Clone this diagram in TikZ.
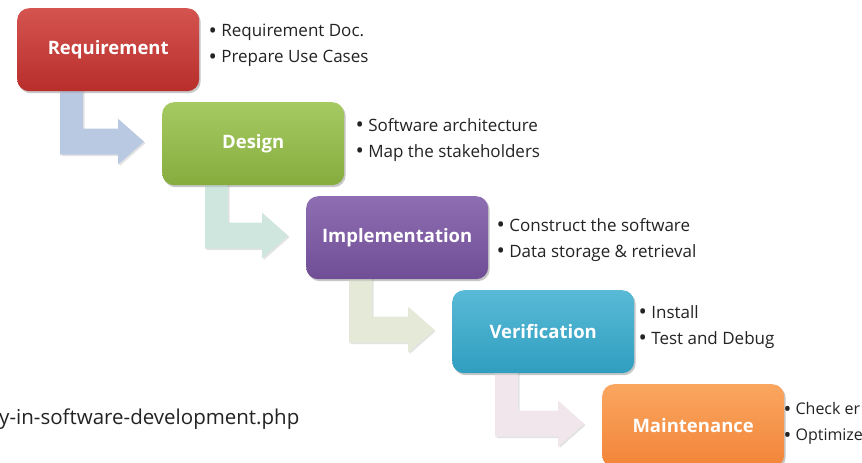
\documentclass[tikz,border=0pt]{standalone}
\usepackage{fontspec}
\setmainfont{Open Sans}
\usetikzlibrary{shadows,calc}
\definecolor{txt}{RGB}{35,35,35}
\definecolor{reqT}{RGB}{212,84,80}\definecolor{reqB}{RGB}{184,46,43}
\definecolor{desT}{RGB}{166,202,98}\definecolor{desB}{RGB}{134,172,62}
\definecolor{impT}{RGB}{142,110,178}\definecolor{impB}{RGB}{112,78,150}
\definecolor{verT}{RGB}{88,186,214}\definecolor{verB}{RGB}{48,158,192}
\definecolor{mntT}{RGB}{250,166,96}\definecolor{mntB}{RGB}{242,132,56}
\definecolor{arA}{RGB}{186,201,226}
\definecolor{arB}{RGB}{206,230,221}
\definecolor{arC}{RGB}{229,233,216}
\definecolor{arD}{RGB}{240,230,235}
\newcommand{\bul}{\raisebox{-0.1em}{\scalebox{1.3}{•}}}
\tikzset{
  phase/.style={rounded corners=12pt, minimum width=182pt, minimum height=83pt,
    anchor=north west, inner sep=0pt, text=white,
    font=\fontsize{18.5}{22}\selectfont\bfseries,
    drop shadow={opacity=0.25, shadow xshift=1.5pt, shadow yshift=-2pt}},
  bullets/.style={anchor=west, align=left, text=txt, inner sep=0pt,
    font=\fontsize{17}{26}\selectfont},
  bent/.style={draw=none, drop shadow={opacity=0.22, shadow xshift=1.5pt, shadow yshift=-1.5pt}}
}
% #1 source, #2 target, #3 colour
\newcommand{\bentarrow}[3]{%
  \path[bent, fill=#3]
    ($(#1.south west)+(43,-5)$)
    -- ($(#1.south west)+(66,-5)$)
    -- ($(#1.south west |- #2.west)+(66,-15)$)
    -- ($(#2.west)+(-44,-15)$)
    -- ($(#2.west)+(-44,-25)$)
    -- ($(#2.west)+(-18,-2)$)
    -- ($(#2.west)+(-44,21)$)
    -- ($(#2.west)+(-44,11)$)
    -- ($(#1.south west |- #2.west)+(43,11)$)
    -- cycle;}
\begin{document}
\begin{tikzpicture}[x=1pt,y=-1pt]
\useasboundingbox (0,0) rectangle (862,463);
\clip (0,0) rectangle (862,463);
\fill[white] (0,0) rectangle (862,463);
% phase boxes (positions)
\path (17,8) node[phase, opacity=0] (req) {}
      (162,102) node[phase, opacity=0] (des) {}
      (306,196) node[phase, opacity=0] (imp) {}
      (452,290) node[phase, opacity=0] (ver) {}
      (602,384) node[phase, opacity=0] (mnt) {};
% arrows behind boxes
\bentarrow{req}{des}{arA}
\bentarrow{des}{imp}{arB}
\bentarrow{imp}{ver}{arC}
\bentarrow{ver}{mnt}{arD}
% visible boxes
\node[phase, top color=reqT, bottom color=reqB] at (17,8) (reqv) {Requirement};
\node[phase, top color=desT, bottom color=desB] at (162,102) (desv) {Design};
\node[phase, top color=impT, bottom color=impB] at (306,196) (impv) {Implementation};
\node[phase, top color=verT, bottom color=verB] at (452,290) (verv) {Verification};
\node[phase, top color=mntT, bottom color=mntB] at (602,384) (mntv) {Maintenance};
% bullets
\node[bullets] at ($(req.east)+(9,-4)$) (reqb) {\bul\ Requirement Doc.\\\bul\ Prepare Use Cases};
\node[bullets] at ($(des.east)+(11,-4)$) (desb) {\bul\ Software architecture\\\bul\ Map the stakeholders};
\node[bullets] at ($(imp.east)+(8,2)$) (impb) {\bul\ Construct the software\\\bul\ Data storage \& retrieval};
\node[bullets] at ($(ver.east)+(4,-5)$) (verb) {\bul\ Install\\\bul\ Test and Debug};
\node[bullets, font=\fontsize{16}{26}\selectfont] at ($(mnt.east)+(-1,-2)$) (mntb) {\bul\ Check er\\\bul\ Optimize};
% source text
\node[anchor=west, inner sep=0pt, text=txt, font=\fontsize{20.5}{24}\selectfont] at (-1,419) (src) {y-in-software-development.php};
\end{tikzpicture}
\end{document}
